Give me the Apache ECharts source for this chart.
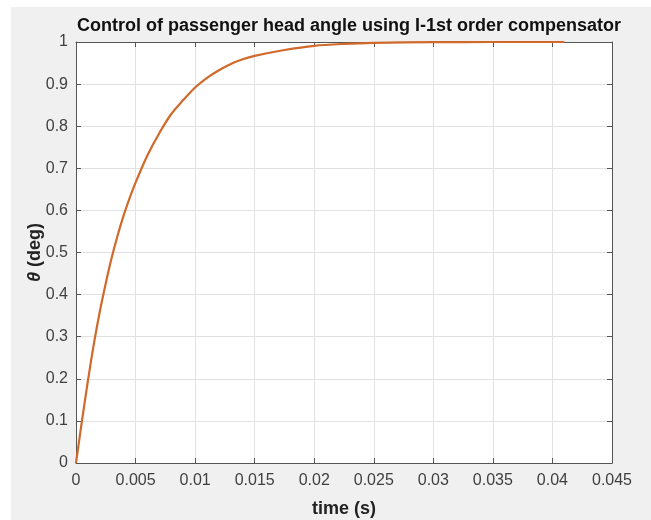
<!DOCTYPE html>
<html>
<head>
<meta charset="utf-8">
<script src="https://cdn.jsdelivr.net/npm/echarts@6/dist/echarts.min.js"></script>
<style>
html,body{margin:0;padding:0;background:#ffffff;}
#bg{position:absolute;left:11px;top:7px;width:640px;height:513px;background:#f0f0f0;}
#chart{position:absolute;left:0;top:0;width:651px;height:520px;}
</style>
</head>
<body>
<div id="bg"></div>
<div id="chart"></div>
<script>
// Data
const timeValues = [0, 0.0005, 0.001, 0.0015, 0.002, 0.0025, 0.003, 0.0035, 0.004, 0.0045, 0.005,
  0.006, 0.007, 0.008, 0.009, 0.010, 0.011, 0.012, 0.013, 0.014, 0.015,
  0.0175, 0.02, 0.0225, 0.025, 0.03, 0.035, 0.041];
const thetaValues = [0, 0.1, 0.195, 0.283, 0.36, 0.427, 0.488, 0.541, 0.588, 0.629, 0.666,
  0.731, 0.784, 0.829, 0.862, 0.892, 0.915, 0.933, 0.948, 0.959, 0.967,
  0.981, 0.991, 0.9955, 0.998, 0.9995, 1.0, 1.0];
const xTicks = [0, 0.005, 0.01, 0.015, 0.02, 0.025, 0.03, 0.035, 0.04, 0.045];
const yTicks = [0, 0.1, 0.2, 0.3, 0.4, 0.5, 0.6, 0.7, 0.8, 0.9, 1];
const titleText = 'Control of passenger head angle using I-1st order compensator';

const seriesData = timeValues.map((t, i) => [t, thetaValues[i]]);
const fmt = v => String(+(+v).toFixed(4));

const FONT = '"Liberation Sans", Arial, Helvetica, sans-serif';
const frameColor = '#555555';
const labelColor = '#3f3f3f';

const chart = echarts.init(document.getElementById('chart'), null, {renderer: 'canvas'});
const xBase = {
  type: 'value', min: xTicks[0], max: xTicks[xTicks.length - 1], interval: 0.005,
  axisLine: {show: true, onZero: false, lineStyle: {color: frameColor, width: 1}},
  axisTick: {show: true, inside: true, length: 5, lineStyle: {color: frameColor}}
};
const yBase = {
  type: 'value', min: yTicks[0], max: yTicks[yTicks.length - 1], interval: 0.1,
  axisLine: {show: true, onZero: false, lineStyle: {color: frameColor, width: 1}},
  axisTick: {show: true, inside: true, length: 5, lineStyle: {color: frameColor}}
};
chart.setOption({
  animation: false,
  backgroundColor: 'transparent',
  title: {
    text: titleText, left: 344, top: 12, textAlign: 'center',
    textStyle: {fontFamily: FONT, fontSize: 18, fontWeight: 'bold', color: '#111111'}
  },
  grid: {left: 76, top: 42, width: 536, height: 421, show: true, backgroundColor: '#ffffff', borderWidth: 0,
    containLabel: false, outerBoundsMode: 'none'},
  xAxis: [
    Object.assign({}, xBase, {
      position: 'bottom',
      name: 'time (s)', nameLocation: 'middle', nameGap: 37, nameMoveOverlap: false,
      nameTextStyle: {fontFamily: FONT, fontSize: 18, fontWeight: 'bold', color: '#222222'},
      axisLabel: {show: true, margin: 10, fontFamily: FONT, fontSize: 16, color: labelColor, formatter: fmt},
      splitLine: {show: true, lineStyle: {color: '#e2e2e2', width: 1}}
    }),
    Object.assign({}, xBase, {position: 'top', axisLabel: {show: false}, splitLine: {show: false}})
  ],
  yAxis: [
    Object.assign({}, yBase, {
      position: 'left',
      name: '{i|θ} (deg)', nameLocation: 'middle', nameGap: 32, nameMoveOverlap: false,
      nameTextStyle: {fontFamily: FONT, fontSize: 18, fontWeight: 'bold', color: '#222222',
        rich: {i: {fontFamily: FONT, fontSize: 18, fontWeight: 'bold', fontStyle: 'italic', color: '#222222'}}},
      axisLabel: {show: true, margin: 8, fontFamily: FONT, fontSize: 16, color: labelColor, formatter: fmt},
      splitLine: {show: true, lineStyle: {color: '#e2e2e2', width: 1}}
    }),
    Object.assign({}, yBase, {position: 'right', axisLabel: {show: false}, splitLine: {show: false}})
  ],
  series: [{
    type: 'line', xAxisIndex: 0, yAxisIndex: 0,
    data: seriesData, showSymbol: false, smooth: 0.3,
    lineStyle: {color: '#d0692a', width: 2.2}, clip: false
  }]
});
</script>
</body>
</html>
